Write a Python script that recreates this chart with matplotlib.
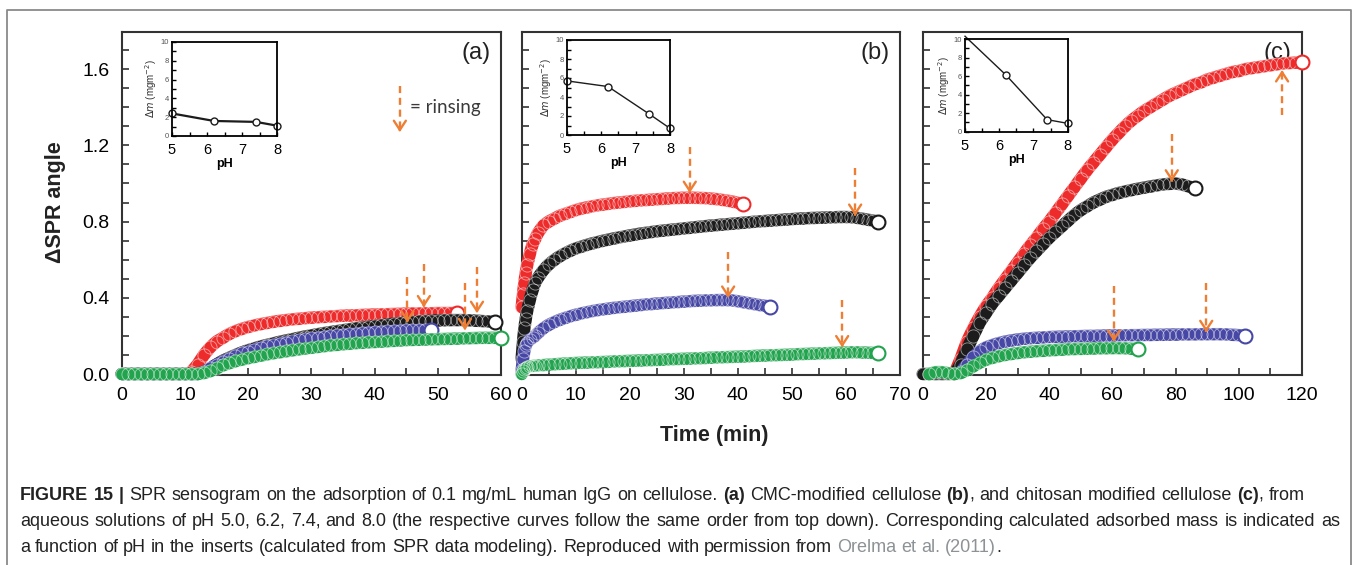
import numpy as np
import matplotlib
matplotlib.use('Agg')
import matplotlib.pyplot as plt
from matplotlib.ticker import MultipleLocator
from matplotlib.lines import Line2D

plt.rcParams['font.family'] = ['Liberation Sans', 'DejaVu Sans']

# ---------------- panel (a): CMC-modified cellulose (1 min steps)
a_t = np.arange(0, 61)
a_red = [0, 0, 0, 0, 0, 0, 0, 0, 0, 0, 0,
         0.01, 0.05, 0.10, 0.14, 0.17, 0.19, 0.21, 0.225, 0.237, 0.247,
         0.255, 0.262, 0.268, 0.274, 0.279, 0.283, 0.287, 0.29, 0.293, 0.296,
         0.298, 0.30, 0.302, 0.304, 0.306, 0.307, 0.308, 0.31, 0.311, 0.312,
         0.313, 0.314, 0.315, 0.316, 0.317, 0.318, 0.318, 0.319, 0.319, 0.32,
         0.32, 0.32, 0.32]
a_black = [0, 0, 0, 0, 0, 0, 0, 0, 0, 0, 0, 0, 0,
           0.01, 0.03, 0.05, 0.07, 0.085, 0.10, 0.113, 0.125,
           0.135, 0.145, 0.153, 0.161, 0.169, 0.176, 0.183, 0.19, 0.197, 0.203,
           0.209, 0.215, 0.22, 0.225, 0.23, 0.235, 0.24, 0.244, 0.248, 0.252,
           0.256, 0.26, 0.264, 0.267, 0.27, 0.273, 0.276, 0.278, 0.28, 0.281,
           0.282, 0.283, 0.283, 0.283, 0.282, 0.28, 0.278, 0.276, 0.275]
a_blue = [0, 0, 0, 0, 0, 0, 0, 0, 0, 0, 0, 0, 0,
          0.01, 0.03, 0.05, 0.065, 0.08, 0.095, 0.108, 0.118,
          0.128, 0.137, 0.145, 0.152, 0.159, 0.165, 0.171, 0.177, 0.182, 0.187,
          0.191, 0.195, 0.199, 0.203, 0.206, 0.209, 0.212, 0.215, 0.218, 0.22,
          0.222, 0.224, 0.226, 0.228, 0.229, 0.23, 0.231, 0.232, 0.232]
a_green = [0, 0, 0, 0, 0, 0, 0, 0, 0, 0, 0, 0, 0,
           0.005, 0.015, 0.03, 0.045, 0.057, 0.067, 0.076, 0.083,
           0.09, 0.097, 0.103, 0.109, 0.114, 0.119, 0.124, 0.129, 0.134, 0.138,
           0.142, 0.146, 0.15, 0.153, 0.156, 0.159, 0.162, 0.164, 0.166, 0.168,
           0.17, 0.172, 0.174, 0.176, 0.178, 0.179, 0.18, 0.181, 0.182, 0.183,
           0.184, 0.185, 0.186, 0.187, 0.188, 0.189, 0.19, 0.19, 0.19, 0.19]

# ---------------- panel (b): unmodified cellulose
b_t = np.array([0, 0.25, 0.5, 0.75, 1, 1.5, 2, 2.5, 3] + list(range(4, 67)))
b_red = [0.35, 0.42, 0.48, 0.53, 0.57, 0.63, 0.68, 0.71, 0.74,
         0.78, 0.80, 0.815, 0.83, 0.84, 0.85, 0.86,
         0.868, 0.874, 0.88, 0.885, 0.889, 0.893, 0.897, 0.90, 0.903, 0.906,
         0.909, 0.911, 0.913, 0.915, 0.917, 0.919, 0.921, 0.923, 0.924, 0.925,
         0.925, 0.925, 0.924, 0.923, 0.921, 0.918, 0.914, 0.91, 0.905, 0.898,
         0.892]
b_black = [0.08, 0.17, 0.24, 0.29, 0.33, 0.39, 0.44, 0.48, 0.505,
           0.545, 0.575, 0.598, 0.617, 0.633, 0.647, 0.659,
           0.668, 0.677, 0.685, 0.692, 0.699, 0.705, 0.711, 0.717, 0.722, 0.727,
           0.732, 0.737, 0.741, 0.745, 0.749, 0.752, 0.755, 0.758, 0.761, 0.764,
           0.767, 0.77, 0.773, 0.776, 0.779, 0.781, 0.784, 0.786, 0.789, 0.791,
           0.794, 0.796, 0.799, 0.801, 0.803, 0.805, 0.807, 0.809, 0.811, 0.813,
           0.815, 0.816, 0.818, 0.819, 0.82, 0.821, 0.822, 0.823, 0.824, 0.824,
           0.823, 0.82, 0.815, 0.81, 0.805, 0.80]
b_blue = [0.02, 0.08, 0.12, 0.15, 0.165, 0.18, 0.19, 0.20, 0.215,
          0.24, 0.258, 0.272, 0.284, 0.294, 0.303, 0.311,
          0.318, 0.324, 0.33, 0.335, 0.339, 0.343, 0.347, 0.35, 0.353, 0.356,
          0.359, 0.362, 0.365, 0.367, 0.37, 0.372, 0.374, 0.376, 0.378, 0.38,
          0.382, 0.384, 0.385, 0.386, 0.387, 0.388, 0.388, 0.388, 0.386, 0.382,
          0.377, 0.372, 0.367, 0.362, 0.358, 0.354]
b_green = [0.0, 0.015, 0.025, 0.032, 0.036, 0.04, 0.042, 0.044, 0.045,
           0.047, 0.049, 0.051, 0.053, 0.055, 0.056, 0.058,
           0.059, 0.06, 0.061, 0.062, 0.063, 0.064, 0.066, 0.067, 0.068, 0.069,
           0.07, 0.071, 0.072, 0.073, 0.074, 0.075, 0.077, 0.078, 0.079, 0.08,
           0.081, 0.082, 0.083, 0.084, 0.086, 0.087, 0.088, 0.089, 0.09, 0.091,
           0.092, 0.093, 0.095, 0.096, 0.097, 0.098, 0.099, 0.10, 0.101, 0.102,
           0.104, 0.105, 0.106, 0.107, 0.108, 0.109, 0.11, 0.111, 0.112, 0.113,
           0.114, 0.114, 0.113, 0.112, 0.111, 0.11]

# ---------------- panel (c): chitosan modified cellulose (2 min steps)
c_t = np.arange(0, 121, 2)
c_red_start, c_black_start, c_blue_start, c_green_start = 10, 0, 12, 2
c_red = [0.0, 0.08, 0.17, 0.24, 0.30, 0.355, 0.40, 0.45, 0.495, 0.54,
         0.585, 0.63, 0.675, 0.715, 0.76, 0.80, 0.845, 0.89, 0.935, 0.98,
         1.025, 1.07, 1.11, 1.15, 1.19, 1.23, 1.265, 1.30, 1.33, 1.355,
         1.38, 1.40, 1.42, 1.44, 1.46, 1.475, 1.49, 1.505, 1.52, 1.53,
         1.545, 1.555, 1.565, 1.575, 1.585, 1.59, 1.60, 1.605, 1.61, 1.615,
         1.62, 1.625, 1.63, 1.632, 1.634, 1.635]
c_black = [0.0, 0.0, 0.0, 0.0, 0.0, 0.0, 0.05, 0.13, 0.20, 0.27,
           0.32, 0.37, 0.41, 0.45, 0.49, 0.53, 0.57, 0.61, 0.645, 0.68,
           0.715, 0.745, 0.775, 0.805, 0.835, 0.86, 0.88, 0.90, 0.915, 0.93,
           0.94, 0.95, 0.958, 0.965, 0.972, 0.978, 0.984, 0.99, 0.995, 0.998,
           1.0, 0.995, 0.985, 0.975]
c_blue = [0.01, 0.05, 0.09, 0.12, 0.14, 0.152, 0.162, 0.17, 0.176, 0.181,
          0.185, 0.188, 0.19, 0.192, 0.194,
          0.195, 0.196, 0.197, 0.198, 0.199, 0.2, 0.2, 0.201, 0.202, 0.202,
          0.203, 0.203, 0.204, 0.204, 0.205, 0.205, 0.206, 0.206, 0.207, 0.207,
          0.208, 0.208, 0.208, 0.209, 0.209, 0.209, 0.209, 0.208, 0.206, 0.204,
          0.202]
c_green = [0.0, 0.01, 0.01, 0.005, 0.0, 0.005, 0.02, 0.04, 0.06, 0.075,
           0.085, 0.093, 0.10, 0.105, 0.11, 0.114, 0.117, 0.12, 0.122, 0.124,
           0.126, 0.128, 0.13, 0.131, 0.132, 0.133, 0.134, 0.135, 0.135, 0.136,
           0.136, 0.135, 0.133, 0.13]

# rinsing arrows: time, start value, tip value
a_arrow_t = [45.2, 47.8, 54.3, 56.2]
a_arrow_from = [0.51, 0.58, 0.48, 0.56]
a_arrow_to = [0.27, 0.35, 0.23, 0.32]
b_arrow_t = [31.1, 61.7, 38.2, 59.3]
b_arrow_from = [1.19, 1.08, 0.64, 0.39]
b_arrow_to = [0.95, 0.83, 0.40, 0.14]
c_arrow_t = [113.7, 78.8, 60.5, 89.7]
c_arrow_from = [1.36, 1.26, 0.46, 0.48]
c_arrow_to = [1.595, 1.01, 0.17, 0.22]

# insets: adsorbed mass vs pH
pH = [5.0, 6.2, 7.4, 8.0]
a_dm = [2.4, 1.6, 1.5, 1.1]
b_dm = [5.7, 5.1, 2.2, 0.7]
c_dm = [10.3, 6.1, 1.3, 0.9]

RED = '#EE2B2B'
BLACK = '#1C1C1C'
BLUE = '#4747A6'
GREEN = '#22A34E'
ORANGE = '#EE7E33'
W, H = 1358, 565

fig = plt.figure(figsize=(W / 100, H / 100), dpi=100)


def px(x0, y0, x1, y1):
    return [x0 / W, 1 - y1 / H, (x1 - x0) / W, (y1 - y0) / H]


def curve(ax, t, v, color):
    t = t[:len(v)]
    # dense band of overlapping open circles
    ax.plot(t, v, color=color, lw=9.0, solid_capstyle='round',
            solid_joinstyle='round', clip_on=False, zorder=3)
    ax.plot(t, v, ls='none', marker='o', ms=9.5, mfc='none', mec='white',
            mew=0.6, alpha=0.55, clip_on=False, zorder=3)
    ax.plot(t[-1:], v[-1:], ls='none', marker='o', ms=10, mfc='white',
            mec=color, mew=1.5, clip_on=False, zorder=3)


def arrow(ax, t, v0, v1):
    ax.plot([t, t], [v0, v1], ls=(0, (3, 2)), color=ORANGE, lw=1.7, zorder=6)
    step = 0.02 if v1 > v0 else -0.02
    ax.annotate('', xy=(t, v1), xytext=(t, v1 - step),
                arrowprops=dict(arrowstyle='->,head_length=0.55,head_width=0.36',
                                color=ORANGE, lw=1.7, mutation_scale=12,
                                shrinkA=0, shrinkB=0), zorder=6)


def main_axes(rect, xmax, xmajor, xminor, label):
    ax = fig.add_axes(rect)
    ax.set_xlim(0, xmax)
    ax.set_ylim(-0.005, 1.795)
    ax.xaxis.set_major_locator(MultipleLocator(xmajor))
    ax.xaxis.set_minor_locator(MultipleLocator(xminor))
    ax.yaxis.set_major_locator(MultipleLocator(0.4))
    ax.yaxis.set_minor_locator(MultipleLocator(0.1))
    ax.tick_params(which='both', direction='in', length=5, width=1.2,
                   color='#333333', labelsize=14, pad=9, top=False, right=False)
    for s in ax.spines.values():
        s.set_linewidth(1.5)
        s.set_color('#333333')
    ax.text(0.935, 0.94, label, transform=ax.transAxes, fontsize=17,
            ha='center', va='center', color='#222222', zorder=1)
    return ax


def inset(rect, dm, lw, marks):
    ax = fig.add_axes(rect)
    ax.plot(pH, dm, color=BLACK, lw=lw, marker='o', ms=5, mfc='white',
            mec=BLACK, mew=1.0, markevery=marks, clip_on=False)
    ax.set_xlim(5, 8)
    ax.set_ylim(0, 10)
    ax.xaxis.set_major_locator(MultipleLocator(1))
    ax.xaxis.set_minor_locator(MultipleLocator(0.5))
    ax.yaxis.set_major_locator(MultipleLocator(2))
    ax.yaxis.set_minor_locator(MultipleLocator(1))
    ax.tick_params(which='both', direction='in', length=3, width=1, top=False, right=False)
    ax.tick_params(axis='x', labelsize=10.5, pad=5)
    ax.tick_params(axis='y', labelsize=5.5, pad=2, labelcolor='#555555')
    ax.set_xlabel('pH', fontsize=9, fontweight='bold', labelpad=1)
    ax.set_ylabel(r'$\Delta m$ (mgm$^{-2}$)', fontsize=7, labelpad=1, color='#333333')
    for s in ax.spines.values():
        s.set_linewidth(1.3)
    return ax


# ---- (a)
ax_a = main_axes(px(121.7, 32, 501, 375), 60, 10, 5, '(a)')
for v, c in [(a_red, RED), (a_black, BLACK), (a_blue, BLUE), (a_green, GREEN)]:
    curve(ax_a, a_t, v, c)
for t, v0, v1 in zip(a_arrow_t, a_arrow_from, a_arrow_to):
    arrow(ax_a, t, v0, v1)
arrow(ax_a, 44.0, 1.51, 1.27)
ax_a.text(45.6, 1.40, '= rinsing', fontsize=13.5, family='Lato', color='#3a3a3a',
          va='center', ha='left')

# ---- (b)
ax_b = main_axes(px(521.7, 32, 900, 375), 70, 10, 5, '(b)')
ax_b.tick_params(axis='y', labelleft=False)
for v, c in [(b_red, RED), (b_black, BLACK), (b_blue, BLUE), (b_green, GREEN)]:
    curve(ax_b, b_t, v, c)
for t, v0, v1 in zip(b_arrow_t, b_arrow_from, b_arrow_to):
    arrow(ax_b, t, v0, v1)

# ---- (c)
ax_c = main_axes(px(922.7, 32, 1302, 375), 120, 20, 10, '(c)')
ax_c.tick_params(axis='y', labelleft=False)
for v, c, st in [(c_red, RED, c_red_start), (c_black, BLACK, c_black_start),
                 (c_blue, BLUE, c_blue_start), (c_green, GREEN, c_green_start)]:
    curve(ax_c, c_t[c_t >= st], v, c)
for t, v0, v1 in zip(c_arrow_t, c_arrow_from, c_arrow_to):
    arrow(ax_c, t, v0, v1)

inset(px(172, 42, 277, 136), a_dm, 1.6, [0, 1, 2, 3])
inset(px(566.7, 40, 670, 135), b_dm, 1.0, [0, 1, 2, 3])
inset(px(965, 39, 1067.7, 131.7), c_dm, 1.0, [1, 2, 3])

fig.text(55 / W, 1 - 202 / H, 'ΔSPR angle', rotation=90, fontsize=15.5,
         fontweight='bold', ha='center', va='center', color='#222222')
fig.text(714 / W, 1 - 435 / H, 'Time (min)', fontsize=15.5, fontweight='bold',
         ha='center', va='center', color='#222222')

# frame around the figure
frame_x = [7 / W, 7 / W, 1351 / W, 1351 / W]
frame_y = [-0.05, 1 - 10 / H, 1 - 10 / H, -0.05]
fig.add_artist(Line2D(frame_x, frame_y, color='#8a8a8a', lw=1.3))

# caption, built from styled runs (first two lines justified)
renderer = fig.canvas.get_renderer()
cap_font = dict(fontsize=13, family='Liberation Sans', color='#222222')


def run_width(s, props):
    t = fig.text(0, 0, s + 'x', **props)
    w1 = t.get_window_extent(renderer).width
    t.set_text('x')
    w2 = t.get_window_extent(renderer).width
    t.remove()
    return w1 - w2


def caption_line(y, runs, right=None):
    words = [[]]
    for s, extra in runs:
        for i, part in enumerate(s.split(' ')):
            if i > 0:
                words.append([])
            if part:
                words[-1].append((part, dict(cap_font, **extra)))
    words = [w for w in words if w]
    widths = [sum(run_width(s, p) for s, p in w) for w in words]
    gap = run_width(' ', cap_font)
    if right is not None:
        gap = (right - 20 - sum(widths)) / (len(words) - 1)
    x = 20
    for w, wd in zip(words, widths):
        xx = x
        for s, p in w:
            fig.text(xx / W, 1 - y / H, s, va='baseline', ha='left', **p)
            xx += run_width(s, p)
        x += wd + gap


B = dict(fontweight='bold')
N = dict()
caption_line(500, [('FIGURE 15 | ', B),
                   ('SPR sensogram on the adsorption of 0.1 mg/mL human IgG on cellulose. ', N),
                   ('(a)', B), (' CMC-modified cellulose ', N), ('(b)', B),
                   (', and chitosan modified cellulose ', N), ('(c)', B), (', from', N)],
             right=1305)
caption_line(526, [('aqueous solutions of pH 5.0, 6.2, 7.4, and 8.0 (the respective curves follow '
                    'the same order from top down). Corresponding calculated adsorbed mass is indicated as', N)],
             right=1340)
caption_line(552, [('a function of pH in the inserts (calculated from SPR data modeling). '
                    'Reproduced with permission from ', N),
                   ('Orelma et al. (2011)', dict(color='#8c9296')), ('.', N)])

fig.savefig('out.png', dpi=100)
